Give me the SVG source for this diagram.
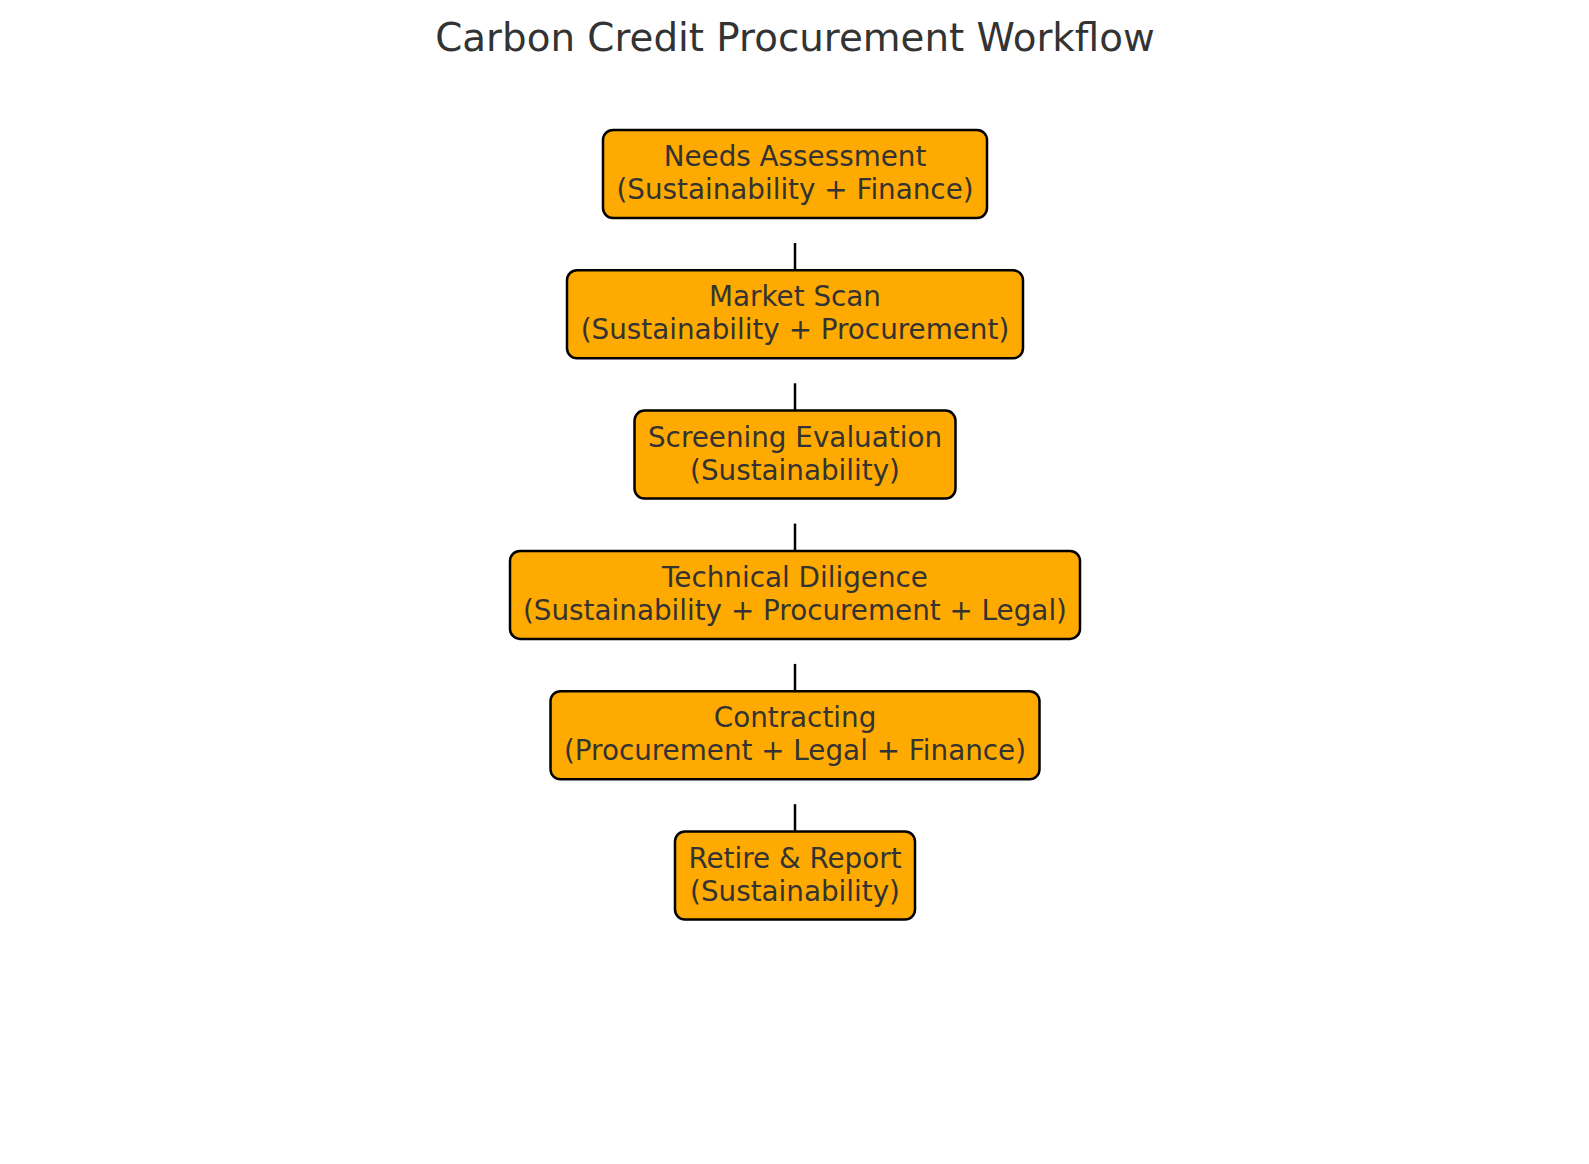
<svg xmlns="http://www.w3.org/2000/svg" width="1589" height="1164" viewBox="0 0 1589 1164">
<style>
.box{fill:#FFAA00;stroke:#000;stroke-width:2.5}
.lbl{font-family:"DejaVu Sans",sans-serif;font-size:27.8px;fill:#333;text-anchor:middle}
.title{font-family:"DejaVu Sans",sans-serif;font-size:38.8px;fill:#333;text-anchor:middle}
.edge{stroke:#000;stroke-width:2.5;fill:none}
</style>
<rect width="1589" height="1164" fill="#fff"/>
<text class="title" x="795" y="50.5">Carbon Credit Procurement Workflow</text>
<g id="connectors">
<line class="edge" x1="795" y1="243" x2="795" y2="270"/>
<line class="edge" x1="795" y1="383.3" x2="795" y2="410.3"/>
<line class="edge" x1="795" y1="523.6" x2="795" y2="550.6"/>
<line class="edge" x1="795" y1="663.9" x2="795" y2="690.9"/>
<line class="edge" x1="795" y1="804.2" x2="795" y2="831.2"/>
</g>
<g id="n1">
<rect class="box" x="603" y="130" width="384" height="88" rx="10"/>
<text class="lbl" x="795" y="166">Needs Assessment</text>
<text class="lbl" x="795" y="199">(Sustainability + Finance)</text>
</g>
<g id="n2">
<rect class="box" x="567" y="270.3" width="456" height="88" rx="10"/>
<text class="lbl" x="795" y="306.3">Market Scan</text>
<text class="lbl" x="795" y="339.3">(Sustainability + Procurement)</text>
</g>
<g id="n3">
<rect class="box" x="634.5" y="410.6" width="321" height="88" rx="10"/>
<text class="lbl" x="795" y="446.6">Screening Evaluation</text>
<text class="lbl" x="795" y="479.6">(Sustainability)</text>
</g>
<g id="n4">
<rect class="box" x="510" y="550.9" width="570" height="88" rx="10"/>
<text class="lbl" x="795" y="586.9">Technical Diligence</text>
<text class="lbl" x="795" y="619.9">(Sustainability + Procurement + Legal)</text>
</g>
<g id="n5">
<rect class="box" x="550.5" y="691.2" width="489" height="88" rx="10"/>
<text class="lbl" x="795" y="727.2">Contracting</text>
<text class="lbl" x="795" y="760.2">(Procurement + Legal + Finance)</text>
</g>
<g id="n6">
<rect class="box" x="675" y="831.5" width="240" height="88" rx="10"/>
<text class="lbl" x="795" y="867.5">Retire &amp; Report</text>
<text class="lbl" x="795" y="900.5">(Sustainability)</text>
</g>
</svg>
